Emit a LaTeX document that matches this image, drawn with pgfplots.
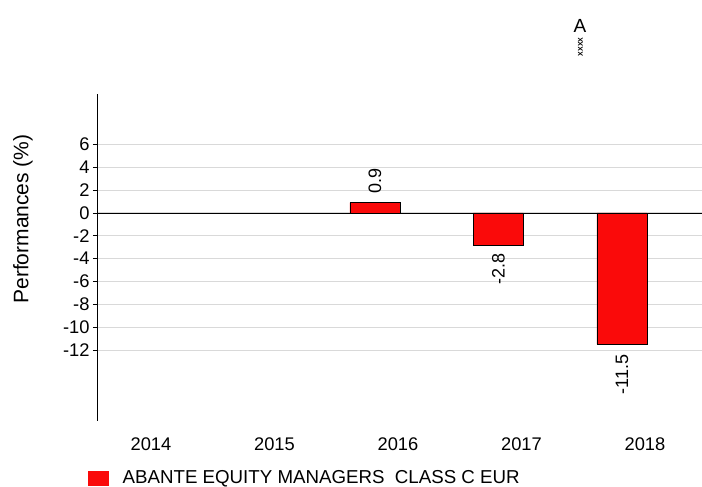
\documentclass[border=0pt]{standalone}
\usepackage{pgfplots}
\pgfplotsset{compat=1.18}
\usepackage{fontspec}
\setmainfont{Liberation Sans}
\definecolor{barred}{RGB}{250,10,10}
\begin{document}
\begin{tikzpicture}[x=1pt,y=1pt]
\path[use as bounding box] (0,0) rectangle (702,487);
\begin{axis}[
  at={(97pt,66pt)}, anchor=south west,
  width=605pt, height=327pt, scale only axis,
  xmin=-0.251, xmax=4.648,
  ymin=-18.2, ymax=10.4,
  axis x line=none,
  axis y line*=left,
  axis line style={black, line width=0.8pt},
  ytick={-12,-10,...,6},
  ymajorgrids, grid style={gray!30, line width=1pt},
  tick style={black, line width=0.8pt}, major tick length=4pt,
  ytick align=outside,
  yticklabel style={font=\fontsize{18.3}{18}\selectfont},
  /pgf/number format/assume math mode=true,
  clip=false,
]
\addplot[ybar, bar width=50pt, fill=barred, draw=black, line width=0.6pt]
  coordinates {(2,0.9) (3,-2.8) (4,-11.5)};
\draw[black, line width=0.8pt] (axis cs:-0.251,0) -- (axis cs:4.648,0);
% value labels
\node[rotate=90, anchor=west, inner sep=0pt, font=\fontsize{18}{18}\selectfont] at ([yshift=9pt]axis cs:2,0.9) {0.9};
\node[rotate=90, anchor=east, inner sep=0pt, font=\fontsize{18}{18}\selectfont] at ([yshift=-8pt]axis cs:3,-2.8) {-2.8};
\node[rotate=90, anchor=east, inner sep=0pt, font=\fontsize{18}{18}\selectfont] at ([yshift=-10pt]axis cs:4,-11.5) {-11.5};
% category labels
\node[font=\fontsize{18.3}{18}\selectfont] at ([xshift=23pt]axis cs:0,-20.2) {2014};
\node[font=\fontsize{18.3}{18}\selectfont] at ([xshift=23pt]axis cs:1,-20.2) {2015};
\node[font=\fontsize{18.3}{18}\selectfont] at ([xshift=23pt]axis cs:2,-20.2) {2016};
\node[font=\fontsize{18.3}{18}\selectfont] at ([xshift=23pt]axis cs:3,-20.2) {2017};
\node[font=\fontsize{18.3}{18}\selectfont] at ([xshift=23pt]axis cs:4,-20.2) {2018};
\end{axis}
% y label
\node[rotate=90, font=\fontsize{21}{21}\selectfont] at (23,268) {Performances (\%)};
% legend
\fill[barred] (88,0.5) rectangle (109,15.5);
\node[anchor=west, inner sep=0pt, font=\fontsize{18.7}{18}\selectfont] at (122.5,8.5) {ABANTE EQUITY MANAGERS\ \ CLASS C EUR};
% top marker
\node[font=\fontsize{19}{19}\selectfont] at (580,461) {A};
\node[rotate=90, font=\bfseries\fontsize{7}{7}\selectfont, inner sep=0pt] at (580.5,440) {XXXX};
\end{tikzpicture}
\end{document}
